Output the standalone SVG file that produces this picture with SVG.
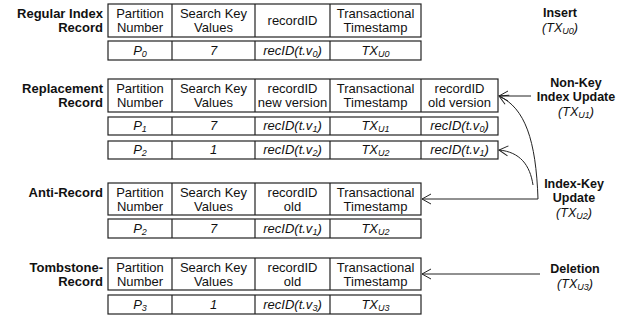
<svg xmlns="http://www.w3.org/2000/svg" width="630" height="321" viewBox="0 0 630 321">
<style>
text{font-family:"Liberation Sans",Arial,sans-serif;font-size:13px;fill:#111;}
.h{text-anchor:middle;}
.v{text-anchor:middle;font-style:italic;}
.lb{text-anchor:end;font-weight:bold;}
.op{text-anchor:middle;font-weight:bold;font-size:12.5px;}
.ot{text-anchor:middle;font-style:italic;font-size:12.5px;}
.s{font-size:9px;}
rect,.cd{fill:#fff;stroke:#222;stroke-width:1.2;}
.cd{fill:none;}
.c{fill:none;stroke:#222;stroke-width:1;}
</style>
<defs>
<marker id="ah" markerWidth="12" markerHeight="12" refX="10" refY="6" orient="auto" markerUnits="userSpaceOnUse">
<path d="M1,1 L10,6 L1,11" fill="none" stroke="#222" stroke-width="1"/>
</marker>
</defs>

<g id="regular">
<text class="lb" x="103" y="18">Regular Index</text>
<text class="lb" x="103" y="32">Record</text>
<rect x="108" y="4" width="313" height="33"/>
<path class="cd" d="M172,4V37M255,4V37M330,4V37"/>
<text class="h" x="140" y="18">Partition</text><text class="h" x="140" y="32">Number</text>
<text class="h" x="213.5" y="18">Search Key</text><text class="h" x="213.5" y="32">Values</text>
<text class="h" x="292.5" y="25">recordID</text>
<text class="h" x="375.5" y="18">Transactional</text><text class="h" x="375.5" y="32">Timestamp</text>
<rect x="108" y="41" width="313" height="19"/>
<path class="cd" d="M172,41V60M255,41V60M330,41V60"/>
<text class="v" x="140" y="55">P<tspan class="s" dy="2">0</tspan></text>
<text class="v" x="213.5" y="55">7</text>
<text class="v" x="292.5" y="55">recID(t.v<tspan class="s" dy="2">0</tspan><tspan dy="-2">)</tspan></text>
<text class="v" x="375.5" y="55">TX<tspan class="s" dy="2">U0</tspan></text>
</g>

<g id="replacement">
<text class="lb" x="103" y="93">Replacement</text>
<text class="lb" x="103" y="107">Record</text>
<rect x="108" y="79" width="390" height="33"/>
<path class="cd" d="M172,79V112M255,79V112M330,79V112M421,79V112"/>
<text class="h" x="140" y="93">Partition</text><text class="h" x="140" y="107">Number</text>
<text class="h" x="213.5" y="93">Search Key</text><text class="h" x="213.5" y="107">Values</text>
<text class="h" x="292.5" y="93">recordID</text><text class="h" x="292.5" y="107">new version</text>
<text class="h" x="375.5" y="93">Transactional</text><text class="h" x="375.5" y="107">Timestamp</text>
<text class="h" x="459.5" y="93">recordID</text><text class="h" x="459.5" y="107">old version</text>
<rect x="108" y="117" width="390" height="18"/>
<path class="cd" d="M172,117V135M255,117V135M330,117V135M421,117V135"/>
<text class="v" x="140" y="130">P<tspan class="s" dy="2">1</tspan></text>
<text class="v" x="213.5" y="130">7</text>
<text class="v" x="292.5" y="130">recID(t.v<tspan class="s" dy="2">1</tspan><tspan dy="-2">)</tspan></text>
<text class="v" x="375.5" y="130">TX<tspan class="s" dy="2">U1</tspan></text>
<text class="v" x="459.5" y="130">recID(t.v<tspan class="s" dy="2">0</tspan><tspan dy="-2">)</tspan></text>
<rect x="108" y="141" width="390" height="18"/>
<path class="cd" d="M172,141V159M255,141V159M330,141V159M421,141V159"/>
<text class="v" x="140" y="154">P<tspan class="s" dy="2">2</tspan></text>
<text class="v" x="213.5" y="154">1</text>
<text class="v" x="292.5" y="154">recID(t.v<tspan class="s" dy="2">2</tspan><tspan dy="-2">)</tspan></text>
<text class="v" x="375.5" y="154">TX<tspan class="s" dy="2">U2</tspan></text>
<text class="v" x="459.5" y="154">recID(t.v<tspan class="s" dy="2">1</tspan><tspan dy="-2">)</tspan></text>
</g>

<g id="anti">
<text class="lb" x="103" y="197">Anti-Record</text>
<rect x="108" y="183" width="313" height="32"/>
<path class="cd" d="M172,183V215M255,183V215M330,183V215"/>
<text class="h" x="140" y="197">Partition</text><text class="h" x="140" y="211">Number</text>
<text class="h" x="213.5" y="197">Search Key</text><text class="h" x="213.5" y="211">Values</text>
<text class="h" x="292.5" y="197">recordID</text><text class="h" x="292.5" y="211">old</text>
<text class="h" x="375.5" y="197">Transactional</text><text class="h" x="375.5" y="211">Timestamp</text>
<rect x="108" y="219" width="313" height="19"/>
<path class="cd" d="M172,219V238M255,219V238M330,219V238"/>
<text class="v" x="140" y="233">P<tspan class="s" dy="2">2</tspan></text>
<text class="v" x="213.5" y="233">7</text>
<text class="v" x="292.5" y="233">recID(t.v<tspan class="s" dy="2">1</tspan><tspan dy="-2">)</tspan></text>
<text class="v" x="375.5" y="233">TX<tspan class="s" dy="2">U2</tspan></text>
</g>

<g id="tombstone">
<text class="lb" x="103" y="272">Tombstone-</text>
<text class="lb" x="103" y="286">Record</text>
<rect x="108" y="258" width="313" height="32"/>
<path class="cd" d="M172,258V290M255,258V290M330,258V290"/>
<text class="h" x="140" y="272">Partition</text><text class="h" x="140" y="286">Number</text>
<text class="h" x="213.5" y="272">Search Key</text><text class="h" x="213.5" y="286">Values</text>
<text class="h" x="292.5" y="272">recordID</text><text class="h" x="292.5" y="286">old</text>
<text class="h" x="375.5" y="272">Transactional</text><text class="h" x="375.5" y="286">Timestamp</text>
<rect x="108" y="295" width="313" height="19"/>
<path class="cd" d="M172,295V314M255,295V314M330,295V314"/>
<text class="v" x="140" y="309">P<tspan class="s" dy="2">3</tspan></text>
<text class="v" x="213.5" y="309">1</text>
<text class="v" x="292.5" y="309">recID(t.v<tspan class="s" dy="2">3</tspan><tspan dy="-2">)</tspan></text>
<text class="v" x="375.5" y="309">TX<tspan class="s" dy="2">U3</tspan></text>
</g>

<g id="insert">
<text class="op" x="560" y="17">Insert</text>
<text class="ot" x="560" y="32">(TX<tspan class="s" dy="2">U0</tspan><tspan dy="-2">)</tspan></text>
</g>
<g id="nonkey">
<text class="op" x="576" y="87">Non-Key</text>
<text class="op" x="576" y="101">Index Update</text>
<text class="ot" x="576" y="116">(TX<tspan class="s" dy="2">U1</tspan><tspan dy="-2">)</tspan></text>
</g>
<g id="indexkey">
<text class="op" x="574" y="188">Index-Key</text>
<text class="op" x="574" y="202">Update</text>
<text class="ot" x="574" y="217">(TX<tspan class="s" dy="2">U2</tspan><tspan dy="-2">)</tspan></text>
</g>
<g id="deletion">
<text class="op" x="575" y="273">Deletion</text>
<text class="ot" x="575" y="288">(TX<tspan class="s" dy="2">U3</tspan><tspan dy="-2">)</tspan></text>
</g>

<g id="connectors">
<path class="c" d="M531,96 H499" marker-end="url(#ah)"/>
<path class="c" d="M538,199 C536,140 525,108 499,96" marker-end="url(#ah)"/>
<path class="c" d="M533,185 C530,165 520,152 499,150" marker-end="url(#ah)"/>
<path class="c" d="M538,199 H422" marker-end="url(#ah)"/>
<path class="c" d="M540,274 H422" marker-end="url(#ah)"/>
</g>
</svg>
